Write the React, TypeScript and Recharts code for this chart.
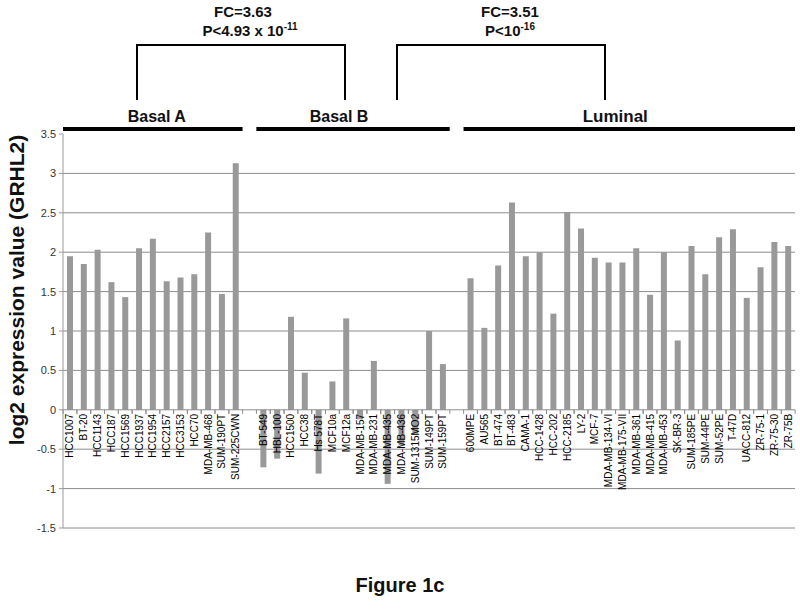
import React from 'react';
import { BarChart, Bar, XAxis, YAxis, CartesianGrid, ReferenceLine, ReferenceArea, LabelList } from 'recharts';

const basalANames = ['HCC1007', 'BT-20', 'HCC1143', 'HCC187', 'HCC1569', 'HCC1937', 'HCC1954', 'HCC2157', 'HCC3153', 'HCC70', 'MDA-MB-468', 'SUM-190PT', 'SUM-225CWN'];
const basalAValues = [1.95, 1.85, 2.03, 1.62, 1.43, 2.05, 2.17, 1.63, 1.68, 1.72, 2.25, 1.47, 3.13];

const basalBNames = ['BT-549', 'HBL-100', 'HCC1500', 'HCC38', 'Hs 578T', 'MCF10a', 'MCF12a', 'MDA-MB-157', 'MDA-MB-231', 'MDA-MB-435', 'MDA-MB-436', 'SUM-1315MO2', 'SUM-149PT', 'SUM-159PT'];
const basalBValues = [-0.73, -0.62, 1.18, 0.47, -0.81, 0.36, 1.16, -0.12, 0.62, -0.94, -0.45, -0.3, 1.0, 0.58];

const luminalNames = ['600MPE', 'AU565', 'BT-474', 'BT-483', 'CAMA-1', 'HCC-1428', 'HCC-202', 'HCC-2185', 'LY-2', 'MCF-7', 'MDA-MB-134-VI', 'MDA-MB-175-VII', 'MDA-MB-361', 'MDA-MB-415', 'MDA-MB-453', 'SK-BR-3', 'SUM-185PE', 'SUM-44PE', 'SUM-52PE', 'T-47D', 'UACC-812', 'ZR-75-1', 'ZR-75-30', 'ZR-75B'];
const luminalValues = [1.67, 1.04, 1.83, 2.63, 1.95, 2.0, 1.22, 2.51, 2.3, 1.93, 1.87, 1.87, 2.05, 1.46, 2.0, 0.88, 2.08, 1.72, 2.19, 2.29, 1.42, 1.81, 2.13, 2.08];

const groupLabels = ['Basal A', 'Basal B', 'Luminal'];
const yTicks = [-1.5, -1, -0.5, 0, 0.5, 1, 1.5, 2, 2.5, 3, 3.5];
const gridValues = [-1.5, -1, -0.5, 0.5, 1, 1.5, 2, 2.5, 3];

type Row = { key: string; label: string; value: number | null };
const toRows = (names: string[], vals: number[]): Row[] => names.map((n, i) => ({ key: n, label: n, value: vals[i] }));
const data: Row[] = [
  ...toRows(basalANames, basalAValues),
  { key: 'gap-1', label: '', value: null },
  ...toRows(basalBNames, basalBValues),
  { key: 'gap-2', label: '', value: null },
  ...toRows(luminalNames, luminalValues),
];
const valueByName = new Map<string, number>();
data.forEach((d) => { if (d.value != null) valueByName.set(d.label, d.value); });

const W = 800;
const H = 616;
const M = { top: 134, right: 5, bottom: 88, left: 0 };
const Y_AXIS_W = 63;
const BAND = (W - M.left - M.right - Y_AXIS_W) / data.length;
const FONT = '"Liberation Sans", Arial, sans-serif';

const CategoryLabel = (props: any) => {
  const { x, y, width, height, value } = props;
  if (!value) return null;
  const v = valueByName.get(value);
  if (v == null) return null;
  const cx = Number(x) + Number(width) / 2;
  const yy = Number(y);
  const hh = Number(height);
  const zeroY = hh < 0 ? yy + hh : v >= 0 ? yy + hh : yy;
  const left = cx - BAND / 2;
  const right = cx + BAND / 2;
  return (
    <g>
      <line x1={left} x2={left} y1={zeroY} y2={zeroY + 4} stroke="#8c8c8c" strokeWidth={1} />
      <line x1={right} x2={right} y1={zeroY} y2={zeroY + 4} stroke="#8c8c8c" strokeWidth={1} />
      <text
        x={cx}
        y={zeroY + 4}
        transform={`rotate(-90, ${cx}, ${zeroY + 4})`}
        textAnchor="end"
        dominantBaseline="central"
        fontSize={10}
        fontFamily={FONT}
        fill="#000"
      >
        {value}
      </text>
    </g>
  );
};

const GroupLabel = (props: any) => {
  const { viewBox, text, size, shift } = props;
  if (!viewBox) return null;
  const cx = viewBox.x + viewBox.width / 2 + (shift || 0);
  return (
    <text x={cx} y={viewBox.y - 5} textAnchor="middle" fontSize={size} fontWeight="bold" fontFamily={FONT} fill="#111">
      {text}
    </text>
  );
};

export default function App() {
  return (
    <div style={{ position: 'absolute', left: 0, top: 0, width: W, height: H, background: '#fff', fontFamily: FONT }}>
      <BarChart width={W} height={H} data={data} margin={M} barSize={6}>
        <CartesianGrid vertical={false} horizontalValues={gridValues} stroke="#8c8c8c" strokeWidth={1} />
        <XAxis dataKey="key" hide />
        <YAxis
          domain={[-1.5, 3.5]}
          ticks={yTicks}
          interval={0}
          width={Y_AXIS_W}
          axisLine={{ stroke: '#9a9a9a' }}
          tickLine={{ stroke: '#9a9a9a' }}
          tickSize={4}
          tickMargin={3}
          tick={{ fontSize: 11, fill: '#333', fontFamily: FONT }}
        />
        <ReferenceLine y={0} stroke="#8c8c8c" strokeWidth={1} />
        <Bar dataKey="value" fill="#999999" isAnimationActive={false}>
          <LabelList dataKey="label" content={<CategoryLabel />} />
        </Bar>
        <ReferenceArea
          x1={basalANames[0]}
          x2={basalANames[basalANames.length - 1]}
          y1={3.538}
          y2={3.59}
          fill="#000"
          fillOpacity={1}
          stroke="none"
          ifOverflow="visible"
          label={<GroupLabel text={groupLabels[0]} size={16} shift={4} />}
        />
        <ReferenceArea
          x1={basalBNames[0]}
          x2={basalBNames[basalBNames.length - 1]}
          y1={3.538}
          y2={3.59}
          fill="#000"
          fillOpacity={1}
          stroke="none"
          ifOverflow="visible"
          label={<GroupLabel text={groupLabels[1]} size={16} shift={-14} />}
        />
        <ReferenceArea
          x1={luminalNames[0]}
          x2={luminalNames[luminalNames.length - 1]}
          y1={3.538}
          y2={3.59}
          fill="#000"
          fillOpacity={1}
          stroke="none"
          ifOverflow="visible"
          label={<GroupLabel text={groupLabels[2]} size={17} shift={-14} />}
        />
      </BarChart>
      <svg width={W} height={H} style={{ position: 'absolute', left: 0, top: 0, pointerEvents: 'none' }}>
        <polyline points="137,100 137,45 345,45 345,100" fill="none" stroke="#000" strokeWidth={2} />
        <polyline points="397,100 397,45 605,45 605,100" fill="none" stroke="#000" strokeWidth={2} />
        <text x={243} y={17} textAnchor="middle" fontSize={15} fontWeight="bold" fontFamily={FONT} fill="#111">FC=3.63</text>
        <text x={250} y={36} textAnchor="middle" fontSize={15} fontWeight="bold" fontFamily={FONT} fill="#111">
          P&lt;4.93 x 10<tspan dy={-6} fontSize={10}>-11</tspan>
        </text>
        <text x={510} y={17} textAnchor="middle" fontSize={15} fontWeight="bold" fontFamily={FONT} fill="#111">FC=3.51</text>
        <text x={510} y={36} textAnchor="middle" fontSize={15} fontWeight="bold" fontFamily={FONT} fill="#111">
          P&lt;10<tspan dy={-6} fontSize={10}>-16</tspan>
        </text>
        <text
          x={16}
          y={290}
          transform="rotate(-90, 16, 290)"
          textAnchor="middle"
          dominantBaseline="central"
          fontSize={21}
          fontWeight="bold"
          fontFamily={FONT}
          fill="#111"
        >
          log2 expression value (GRHL2)
        </text>
        <text x={400} y={592} textAnchor="middle" fontSize={20} fontWeight="bold" fontFamily={FONT} fill="#111">Figure 1c</text>
      </svg>
    </div>
  );
}
